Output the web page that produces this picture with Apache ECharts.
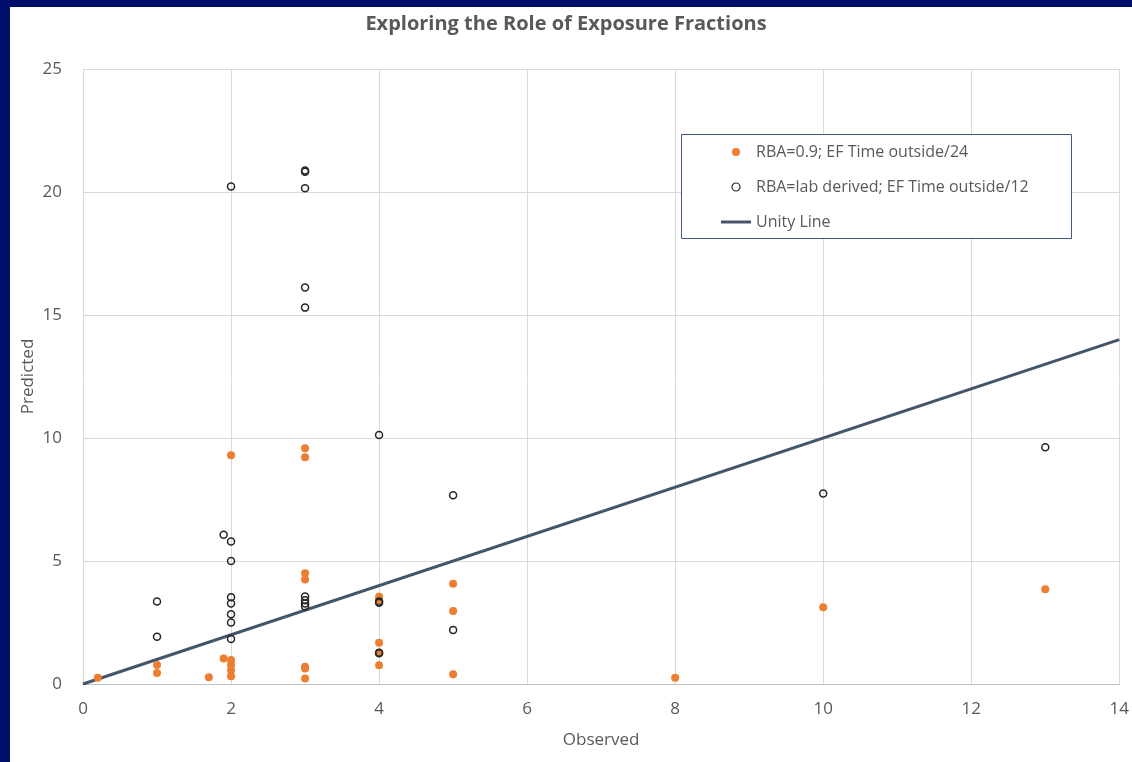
<!DOCTYPE html>
<html>
<head>
<meta charset="utf-8">
<title>Exploring the Role of Exposure Fractions</title>
<script src="https://cdn.jsdelivr.net/npm/echarts@6/dist/echarts.min.js"></script>
<style>
  html, body { margin: 0; padding: 0; background: #ffffff; }
  #chart { width: 1132px; height: 762px; }
</style>
</head>
<body>
<div id="chart"></div>
<script>
// Observed vs predicted values for the two exposure-fraction scenarios
const seriesNames = [
  'RBA=0.9; EF Time outside/24',
  'RBA=lab derived; EF Time outside/12',
  'Unity Line'
];

// [observed, predicted]
const rba09Points = [
  [0.2, 0.25],
  [1, 0.77], [1, 0.45],
  [1.7, 0.27],
  [1.9, 1.04],
  [2, 9.3], [2, 0.98], [2, 0.78], [2, 0.55], [2, 0.32],
  [3, 9.58], [3, 9.22], [3, 4.5], [3, 4.25], [3, 0.7], [3, 0.63], [3, 0.22],
  [4, 3.55], [4, 3.4], [4, 1.68], [4, 1.27], [4, 0.76],
  [5, 4.08], [5, 2.97], [5, 0.4],
  [8, 0.25],
  [10, 3.12],
  [13, 3.85]
];

const labDerivedPoints = [
  [1, 3.35], [1, 1.92],
  [1.9, 6.07],
  [2, 20.22], [2, 5.79], [2, 5.0], [2, 3.53], [2, 3.27], [2, 2.84], [2, 2.5], [2, 1.83],
  [3, 20.87], [3, 20.82], [3, 20.15], [3, 16.12], [3, 15.3], [3, 3.56], [3, 3.4], [3, 3.27], [3, 3.15],
  [4, 10.12], [4, 3.35], [4, 3.3], [4, 1.27], [4, 1.25],
  [5, 7.67], [5, 2.2],
  [10, 7.74],
  [13, 9.62]
];

const unityLine = [[0, 0], [14, 14]];

const xTicks = { min: 0, max: 14, interval: 2 };
const yTicks = { min: 0, max: 25, interval: 5 };

const textGrey = '#595959';
const gridGrey = '#D9D9D9';
const orange = '#ED7D31';
const slate = '#44546A';
const fontFamily = '"Open Sans", "Noto Sans", sans-serif';

const chart = echarts.init(document.getElementById('chart'), null, { renderer: 'canvas' });

chart.setOption({
  backgroundColor: '#ffffff',
  animation: false,
  title: {
    text: 'Exploring the Role of Exposure Fractions',
    left: 'center',
    top: 9,
    textStyle: { color: textGrey, fontSize: 20, fontWeight: 'bold', fontFamily: fontFamily }
  },
  graphic: [
    // dark frame along the top and left edges
    { type: 'rect', left: 0, top: 0, shape: { width: 1132, height: 7 }, style: { fill: '#000F6E' }, z: 100 },
    { type: 'rect', left: 0, top: 0, shape: { width: 10, height: 762 }, style: { fill: '#000F6E' }, z: 100 },
    // legend frame
    {
      type: 'rect', left: 681, top: 134,
      shape: { width: 390, height: 104 },
      style: { fill: '#ffffff', stroke: '#3E5B86', lineWidth: 1 },
      z: 5
    }
  ],
  legend: {
    orient: 'vertical',
    left: 721,
    top: 142,
    padding: 0,
    itemWidth: 30,
    itemHeight: 8,
    itemGap: 15,
    z: 10,
    textStyle: { color: textGrey, fontSize: 16, fontFamily: fontFamily, lineHeight: 20 },
    data: [
      { name: seriesNames[0] },
      { name: seriesNames[1], icon: 'circle', itemStyle: { borderWidth: 1.2 } },
      { name: seriesNames[2], icon: 'path://M0,0 L30,0 L30,3 L0,3 Z' }
    ]
  },
  grid: { left: 83, right: 12, top: 69, bottom: 78, containLabel: false },
  xAxis: {
    type: 'value',
    min: xTicks.min, max: xTicks.max, interval: xTicks.interval,
    name: 'Observed',
    nameLocation: 'middle',
    nameGap: 48,
    nameTextStyle: { color: textGrey, fontSize: 17, fontFamily: fontFamily },
    axisLine: { show: true, lineStyle: { color: '#BFBFBF', width: 1 } },
    axisTick: { show: false },
    axisLabel: { color: textGrey, fontSize: 17, margin: 17, fontFamily: fontFamily },
    splitLine: { show: true, lineStyle: { color: gridGrey, width: 1 } }
  },
  yAxis: {
    type: 'value',
    min: yTicks.min, max: yTicks.max, interval: yTicks.interval,
    name: 'Predicted',
    nameLocation: 'middle',
    nameGap: 46,
    nameMoveOverlap: false,
    nameTextStyle: { color: textGrey, fontSize: 17, fontFamily: fontFamily },
    axisLine: { show: false },
    axisTick: { show: false },
    axisLabel: { color: textGrey, fontSize: 17, margin: 21, fontFamily: fontFamily },
    splitLine: { show: true, lineStyle: { color: gridGrey, width: 1 } }
  },
  series: [
    {
      name: seriesNames[0],
      type: 'scatter',
      data: rba09Points,
      symbol: 'circle',
      symbolSize: 8,
      itemStyle: { color: orange, opacity: 1 },
      z: 3
    },
    {
      name: seriesNames[1],
      type: 'scatter',
      data: labDerivedPoints,
      symbol: 'circle',
      symbolSize: 7,
      itemStyle: { color: 'rgba(0,0,0,0)', borderColor: '#262626', borderWidth: 1.5, opacity: 1 },
      z: 4
    },
    {
      name: seriesNames[2],
      type: 'line',
      data: unityLine,
      showSymbol: false,
      symbol: 'none',
      lineStyle: { color: slate, width: 3 },
      itemStyle: { color: slate },
      z: 2
    }
  ]
});
</script>
</body>
</html>
